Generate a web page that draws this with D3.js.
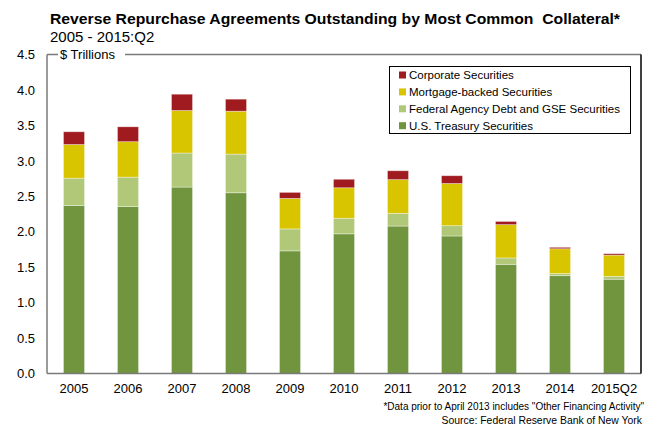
<!DOCTYPE html>
<html>
<head>
<meta charset="utf-8">
<script src="https://cdn.jsdelivr.net/npm/d3@7.9.0/dist/d3.min.js"></script>
<style>
  body { margin: 0; background: #fff; }
  svg { font-family: "Liberation Sans", Arial, sans-serif; }
</style>
</head>
<body>
<svg id="chart" width="668" height="432"></svg>
<script>
// Data ($ trillions)
const years = ['2005', '2006', '2007', '2008', '2009', '2010', '2011', '2012', '2013', '2014', '2015Q2'];
const treasury = [2.37, 2.355, 2.63, 2.55, 1.73, 1.97, 2.08, 1.94, 1.54, 1.38, 1.33];
const agency = [0.385, 0.415, 0.48, 0.545, 0.31, 0.22, 0.18, 0.145, 0.09, 0.03, 0.04];
const mbs = [0.475, 0.50, 0.60, 0.605, 0.43, 0.43, 0.475, 0.595, 0.47, 0.35, 0.30];
const corporate = [0.18, 0.21, 0.23, 0.17, 0.085, 0.12, 0.125, 0.11, 0.045, 0.02, 0.02];
const yTicks = [0, 0.5, 1.0, 1.5, 2.0, 2.5, 3.0, 3.5, 4.0, 4.5];

const seriesKeys = ['treasury', 'agency', 'mbs', 'corporate'];
const seriesNames = {
  treasury: 'U.S. Treasury Securities',
  agency: 'Federal Agency Debt and GSE Securities',
  mbs: 'Mortgage-backed Securities',
  corporate: 'Corporate Securities'
};
const colors = {
  treasury: '#71953e',
  agency: '#b0c877',
  mbs: '#d9c400',
  corporate: '#9f1b1f'
};

const rows = years.map((y, i) => ({
  year: y,
  treasury: treasury[i],
  agency: agency[i],
  mbs: mbs[i],
  corporate: corporate[i]
}));

const svg = d3.select('#chart');
const margin = { left: 47, right: 641, top: 54.5, bottom: 373.5 };

const x = d3.scaleBand().domain(years).range([margin.left, margin.right]).paddingInner(0.61).paddingOuter(0.305);
const y = d3.scaleLinear().domain([0, 4.5]).range([margin.bottom, margin.top]);

// Title
svg.append('text')
  .attr('x', 50).attr('y', 24)
  .attr('font-size', 15.5).attr('font-weight', 'bold').attr('fill', '#000')
  .attr('textLength', 570).attr('lengthAdjust', 'spacingAndGlyphs')
  .style('white-space', 'pre')
  .text('Reverse Repurchase Agreements Outstanding by Most Common  Collateral*');
svg.append('text')
  .attr('x', 50).attr('y', 42)
  .attr('font-size', 15).attr('fill', '#000')
  .text('2005 - 2015:Q2');

// Bars
const stacked = d3.stack().keys(seriesKeys)(rows);
svg.append('g')
  .selectAll('g')
  .data(stacked)
  .join('g')
  .attr('fill', d => colors[d.key])
  .selectAll('rect')
  .data(d => d)
  .join('rect')
  .attr('x', d => x(d.data.year))
  .attr('width', x.bandwidth())
  .attr('y', d => y(d[1]))
  .attr('height', d => y(d[0]) - y(d[1]))
  .attr('stroke', '#fff')
  .attr('stroke-opacity', 0.45)
  .attr('stroke-width', 0.8);

// Frame
svg.append('line')
  .attr('x1', margin.left).attr('x2', margin.right)
  .attr('y1', margin.top).attr('y2', margin.top)
  .attr('stroke', '#7a7a7a').attr('stroke-width', 1.5);
svg.append('line')
  .attr('x1', margin.left).attr('x2', margin.left)
  .attr('y1', margin.top).attr('y2', margin.bottom)
  .attr('stroke', '#7a7a7a').attr('stroke-width', 1.5);
svg.append('line')
  .attr('x1', margin.left).attr('x2', margin.right)
  .attr('y1', margin.bottom).attr('y2', margin.bottom)
  .attr('stroke', '#7a7a7a').attr('stroke-width', 1.5);
svg.append('line')
  .attr('x1', margin.right).attr('x2', margin.right)
  .attr('y1', margin.top).attr('y2', margin.bottom)
  .attr('stroke', '#000').attr('stroke-width', 1.5);

// Y axis labels
const yAxis = d3.axisLeft(y).tickValues(yTicks).tickFormat(d3.format('.1f')).tickSize(0).tickPadding(12);
svg.append('g')
  .attr('transform', `translate(${margin.left},0)`)
  .call(yAxis)
  .call(g => g.select('.domain').remove())
  .call(g => g.selectAll('text')
    .attr('font-size', 13)
    .attr('font-family', '"Liberation Sans", Arial, sans-serif')
    .attr('fill', '#000'));

// X axis labels
const xAxis = d3.axisBottom(x).tickSize(0).tickPadding(10);
svg.append('g')
  .attr('transform', `translate(0,${margin.bottom})`)
  .call(xAxis)
  .call(g => g.select('.domain').remove())
  .call(g => g.selectAll('text')
    .attr('font-size', 13)
    .attr('font-family', '"Liberation Sans", Arial, sans-serif')
    .attr('fill', '#000'));

// Units label over the top border
svg.append('rect')
  .attr('x', 58).attr('y', 47).attr('width', 67).attr('height', 14)
  .attr('fill', '#fff');
svg.append('text')
  .attr('x', 60).attr('y', 59)
  .attr('font-size', 13).attr('fill', '#000')
  .text('$ Trillions');

// Legend
const legend = svg.append('g');
legend.append('rect')
  .attr('x', 389.5).attr('y', 66.5).attr('width', 241).attr('height', 67)
  .attr('fill', '#fff').attr('stroke', '#000').attr('stroke-width', 1);
const legendOrder = ['corporate', 'mbs', 'agency', 'treasury'];
legendOrder.forEach((k, i) => {
  const cy = 75 + i * 16.9;
  legend.append('rect')
    .attr('x', 399).attr('y', cy - 3.5).attr('width', 7).attr('height', 7)
    .attr('fill', colors[k]);
  legend.append('text')
    .attr('x', 409).attr('y', cy + 4)
    .attr('font-size', 11.5).attr('fill', '#000')
    .text(seriesNames[k]);
});

// Footnotes
svg.append('text')
  .attr('x', 644).attr('y', 410)
  .attr('text-anchor', 'end').attr('font-size', 10).attr('fill', '#000')
  .text('*Data prior to April 2013 includes "Other Financing Activity"');
svg.append('text')
  .attr('x', 642).attr('y', 424)
  .attr('text-anchor', 'end').attr('font-size', 10.4).attr('fill', '#000')
  .text('Source: Federal Reserve Bank of New York');
</script>
</body>
</html>
